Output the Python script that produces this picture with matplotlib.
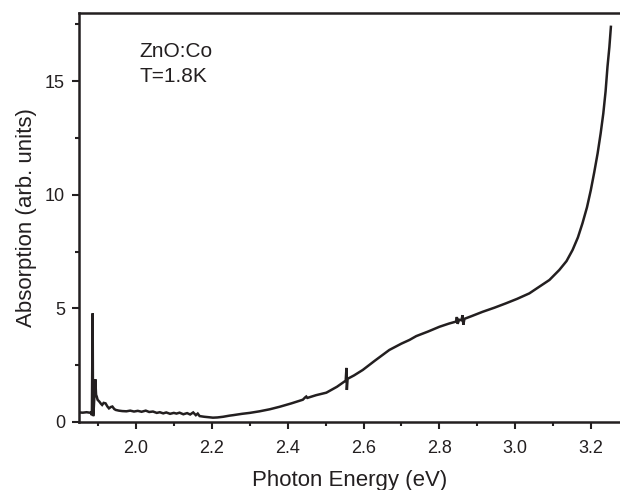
import matplotlib
matplotlib.use("Agg")
import matplotlib.pyplot as plt
from matplotlib.ticker import MultipleLocator

plt.rcParams['font.family'] = ['Liberation Sans', 'DejaVu Sans']

energy = [1.851, 1.860, 1.870, 1.878, 1.882, 1.884, 1.886, 1.887, 1.888, 1.890,
          1.893, 1.895, 1.897, 1.899, 1.904, 1.908, 1.911, 1.915, 1.920, 1.925,
          1.929, 1.934, 1.938, 1.943, 1.947, 1.955, 1.964, 1.975, 1.985, 1.995,
          2.005, 2.015, 2.026, 2.035, 2.045, 2.055, 2.063, 2.072, 2.080, 2.090,
          2.100, 2.107, 2.115, 2.125, 2.135, 2.143, 2.151, 2.158, 2.163, 2.168,
          2.180, 2.192, 2.203, 2.215, 2.230, 2.247, 2.256, 2.280, 2.300, 2.326,
          2.353, 2.379, 2.410, 2.440, 2.446, 2.449, 2.452, 2.475, 2.502, 2.530,
          2.553, 2.555, 2.556, 2.558, 2.575, 2.598, 2.630, 2.668, 2.700, 2.721,
          2.739, 2.770, 2.800, 2.825, 2.844, 2.846, 2.848, 2.852, 2.858, 2.861,
          2.863, 2.866, 2.885, 2.914, 2.945, 2.975, 3.005, 3.037, 3.063, 3.090,
          3.116, 3.135, 3.151, 3.165, 3.177, 3.189, 3.199, 3.208, 3.217, 3.225,
          3.232, 3.238, 3.243, 3.248, 3.252]
absorption = [0.42, 0.41, 0.43, 0.41, 0.42, 0.30, 4.78, 0.26, 0.30, 0.95,
              1.88, 1.20, 1.11, 0.98, 0.89, 0.80, 0.75, 0.84, 0.82, 0.68,
              0.60, 0.66, 0.68, 0.57, 0.53, 0.50, 0.48, 0.47, 0.50, 0.46,
              0.49, 0.45, 0.50, 0.44, 0.46, 0.40, 0.43, 0.38, 0.42, 0.36,
              0.40, 0.37, 0.41, 0.34, 0.39, 0.33, 0.42, 0.30, 0.37, 0.26,
              0.23, 0.21, 0.19, 0.20, 0.23, 0.28, 0.30, 0.36, 0.40, 0.47,
              0.56, 0.67, 0.82, 0.98, 1.08, 1.12, 1.06, 1.18, 1.29, 1.55,
              1.82, 2.38, 1.41, 1.90, 2.05, 2.29, 2.70, 3.17, 3.45, 3.61,
              3.78, 3.98, 4.19, 4.33, 4.42, 4.62, 4.32, 4.50, 4.48, 4.70,
              4.28, 4.54, 4.66, 4.85, 5.03, 5.22, 5.42, 5.66, 5.95, 6.25,
              6.69, 7.08, 7.57, 8.12, 8.74, 9.45, 10.20, 10.98, 11.82, 12.70,
              13.58, 14.55, 15.63, 16.50, 17.39]

title_lines = ["ZnO:Co", "T=1.8K"]
x_label = "Photon Energy (eV)"
y_label = "Absorption (arb. units)"

fig = plt.figure(figsize=(6.2, 4.9), dpi=100)
ax = fig.add_axes([0.1274, 0.1388, 0.8726, 0.8347])
ink = '#231f20'
ax.plot(energy, absorption, color=ink, lw=1.8, solid_joinstyle='miter')

ax.set_xlim(1.85, 3.276)
ax.set_ylim(0, 18)
ax.xaxis.set_major_locator(MultipleLocator(0.2))
ax.xaxis.set_minor_locator(MultipleLocator(0.1))
ax.yaxis.set_major_locator(MultipleLocator(5))
ax.yaxis.set_minor_locator(MultipleLocator(2.5))
ax.xaxis.set_major_formatter(matplotlib.ticker.FormatStrFormatter('%.1f'))
ax.tick_params(which='major', direction='out', length=5, width=1.5, colors=ink,
               labelsize=13)
ax.tick_params(which='minor', direction='out', length=3, width=1.5, colors=ink)
ax.tick_params(axis='x', which='major', pad=8)
ax.tick_params(axis='y', which='major', pad=5)
for s in ['left', 'bottom', 'top']:
    ax.spines[s].set_linewidth(1.8)
    ax.spines[s].set_color(ink)
ax.spines['right'].set_visible(False)

ax.set_xlabel(x_label, fontsize=16, color=ink, labelpad=9)
ax.set_ylabel(y_label, fontsize=16, color=ink, labelpad=6)

ax.text(2.01, 16.29, title_lines[0], fontsize=15, color=ink, va='center', ha='left')
ax.text(2.01, 15.19, title_lines[1], fontsize=15, color=ink, va='center', ha='left')

fig.savefig("out.png", dpi=100)
